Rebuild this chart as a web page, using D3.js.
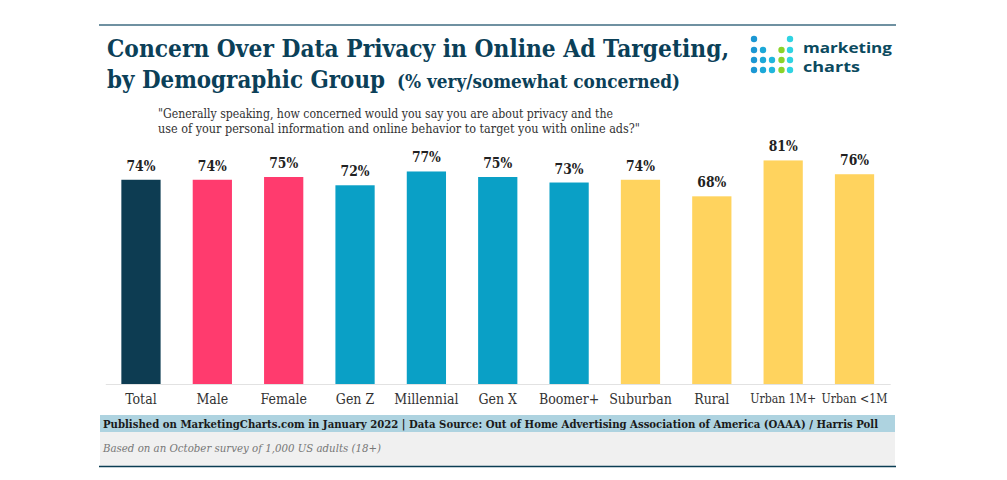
<!DOCTYPE html>
<html><head><meta charset="utf-8">
<script src="https://cdn.jsdelivr.net/npm/d3@7"></script>
<style>html,body{margin:0;padding:0;background:#fff;}svg{display:block;}</style>
</head><body>
<svg id="c" width="1007" height="480"></svg>
<script>
const categories = ["Total","Male","Female","Gen Z","Millennial","Gen X","Boomer+","Suburban","Rural","Urban 1M+","Urban <1M"];
const values = [74,74,75,72,77,75,73,74,68,81,76];
const groups = ["total","gender","gender","age","age","age","age","area","area","area","area"];
const groupNames = ["total","gender","age","area"];
const groupColors = ["#0d3c52","#ff3b6e","#0aa0c6","#ffd35e"];

const svg = d3.select("#c");
const serif = "'DejaVu Serif', serif";
const condSerif = "'DejaVu Serif Condensed', 'DejaVu Serif', serif";
const titleColor = "#0b4058";

// top rule
svg.append("line").attr("x1",99).attr("x2",896).attr("y1",25).attr("y2",25)
  .attr("stroke","#3f6c82").attr("stroke-width",1.5);

// title
svg.append("text").attr("x",107).attr("y",57).attr("font-family",serif).attr("font-weight","bold")
  .attr("font-size",24).attr("fill",titleColor).attr("textLength",622).attr("lengthAdjust","spacingAndGlyphs")
  .text("Concern Over Data Privacy in Online Ad Targeting,");
svg.append("text").attr("x",107).attr("y",88).attr("font-family",serif).attr("font-weight","bold")
  .attr("font-size",24).attr("fill",titleColor).attr("textLength",278).attr("lengthAdjust","spacingAndGlyphs")
  .text("by Demographic Group");
svg.append("text").attr("x",397).attr("y",88).attr("font-family",serif).attr("font-weight","bold")
  .attr("font-size",18).attr("fill",titleColor).attr("textLength",283).attr("lengthAdjust","spacingAndGlyphs")
  .text("(% very/somewhat concerned)");

// subtitle
svg.append("text").attr("x",158).attr("y",118).attr("font-family",serif).attr("font-size",12.5)
  .attr("fill","#333").attr("textLength",455).attr("lengthAdjust","spacingAndGlyphs")
  .text("\"Generally speaking, how concerned would you say you are about privacy and the");
svg.append("text").attr("x",158).attr("y",133).attr("font-family",serif).attr("font-size",12.5)
  .attr("fill","#333").attr("textLength",482).attr("lengthAdjust","spacingAndGlyphs")
  .text("use of your personal information and online behavior to target you with online ads?\"");

// logo
const dotCols = [754,763,772,781.5,790];
const dotRows = [39,50,60,70];
const dotMap = [
  [1,0,0,0,1],
  [1,1,0,1,1],
  [1,1,1,1,1],
  [1,1,1,1,1]];
const dotColors = ["#1b97d3","#1ba8d8","#20b6dc","#8ad32a","#2fd3e2"];
dotMap.forEach((row,ri)=>row.forEach((v,ci)=>{
  if(v) svg.append("circle").attr("cx",dotCols[ci]).attr("cy",dotRows[ri]).attr("r",3.2).attr("fill",dotColors[ci]);
}));
svg.append("text").attr("x",803).attr("y",52.5).attr("font-family","'Open Sans', sans-serif").attr("font-weight",700)
  .attr("font-size",14).attr("fill","#0b4a5e").attr("textLength",89).attr("lengthAdjust","spacingAndGlyphs").text("marketing");
svg.append("text").attr("x",803).attr("y",72).attr("font-family","'Open Sans', sans-serif").attr("font-weight",700)
  .attr("font-size",14).attr("fill","#0b4a5e").attr("textLength",57).attr("lengthAdjust","spacingAndGlyphs").text("charts");

// scales
const x = d3.scaleBand().domain(categories).range([105.3,890.2]).paddingInner(0.45).paddingOuter(0.225);
const y = d3.scaleLinear().domain([0,100]).range([384,108]);
const color = d3.scaleOrdinal().domain(groupNames).range(groupColors);

// bars
svg.append("g").selectAll("rect").data(categories).join("rect")
  .attr("x",d=>x(d)).attr("width",x.bandwidth())
  .attr("y",(d,i)=>y(values[i])).attr("height",(d,i)=>y(0)-y(values[i]))
  .attr("fill",(d,i)=>color(groups[i]));

// value labels
svg.append("g").selectAll("text").data(categories).join("text")
  .attr("x",d=>x(d)+x.bandwidth()/2).attr("y",(d,i)=>y(values[i])-9)
  .attr("text-anchor","middle").attr("font-family",serif).attr("font-weight","bold")
  .attr("font-size",15).attr("fill","#222").attr("textLength",29).attr("lengthAdjust","spacingAndGlyphs")
  .text((d,i)=>values[i]+"%");

// x axis
const xAxis = d3.axisBottom(x).tickSize(0).tickPadding(10);
const gx = svg.append("g").attr("transform","translate(0,384)").call(xAxis);
gx.select(".domain").attr("stroke","#e2e2e2").attr("stroke-width",1);
gx.selectAll("text").attr("font-family",condSerif).attr("font-size",14).attr("fill","#333")
  .each(function(){
    const w = this.getComputedTextLength();
    if (w > 66) d3.select(this).attr("font-size", 14*66/w);
  });

// footer
svg.append("rect").attr("x",100).attr("y",415).attr("width",795).attr("height",17).attr("fill","#aed3e0");
svg.append("text").attr("x",103).attr("y",427.5).attr("font-family",serif).attr("font-weight","bold")
  .attr("font-size",11.5).attr("fill","#1a1a1a").attr("textLength",775).attr("lengthAdjust","spacingAndGlyphs")
  .text("Published on MarketingCharts.com in January 2022 | Data Source: Out of Home Advertising Association of America (OAAA) / Harris Poll");
svg.append("rect").attr("x",100).attr("y",432).attr("width",795).attr("height",34).attr("fill","#f0f0f0");
svg.append("text").attr("x",103).attr("y",452).attr("font-family",serif).attr("font-style","italic")
  .attr("font-size",11.5).attr("fill","#777").attr("textLength",278).attr("lengthAdjust","spacingAndGlyphs")
  .text("Based on an October survey of 1,000 US adults (18+)");
svg.append("line").attr("x1",99).attr("x2",896).attr("y1",466.5).attr("y2",466.5)
  .attr("stroke","#0b3d53").attr("stroke-width",1.5);
</script>
</body></html>
